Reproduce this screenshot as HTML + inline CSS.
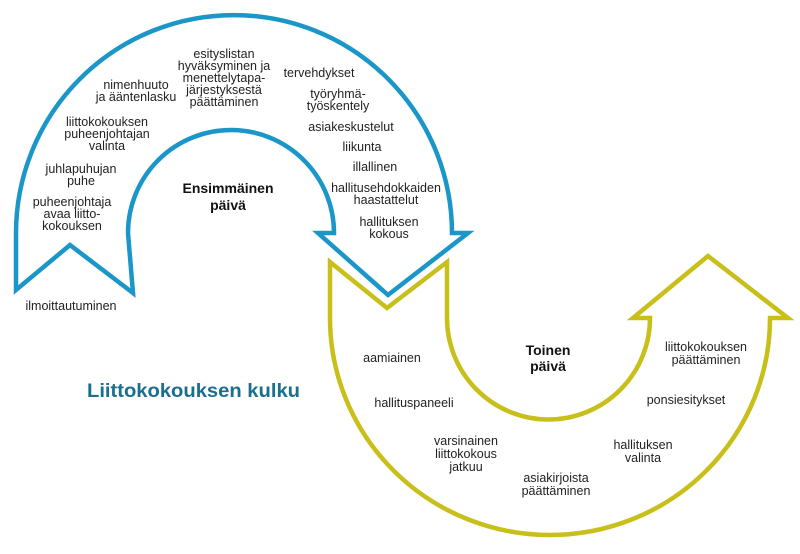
<!DOCTYPE html>
<html><head><meta charset="utf-8"><style>
html,body{margin:0;padding:0;background:#fff;}
svg{display:block}
text{font-family:"Liberation Sans",sans-serif;font-size:12.5px;fill:#222;text-anchor:middle}
.b{font-weight:bold;font-size:14px;fill:#111}
</style></head><body>
<svg width="800" height="554" viewBox="0 0 800 554" xmlns="http://www.w3.org/2000/svg">
<path d="M16 290 L16 233 A218 218 0 0 1 452 233 L468 233 L388 295 L318 233 L334 233 A103 103 0 0 0 128 233 L133 293 L70 245 Z" fill="none" stroke="#1a96c8" stroke-width="4.5" stroke-linejoin="miter"/>
<path d="M330 262 L387 308 L447 262 L447 318 A101 101 0 0 0 650 318 L633 318 L708 256 L788 318 L770 318 A220 217 0 0 1 330 318 Z" fill="none" stroke="#c8bf1a" stroke-width="4.5"/>
<text x="224" y="58">esityslistan</text>
<text x="224" y="70">hyväksyminen ja</text>
<text x="224" y="82">menettelytapa-</text>
<text x="224" y="94">järjestyksestä</text>
<text x="224" y="106">päättäminen</text>
<text x="136" y="89">nimenhuuto</text>
<text x="136" y="101">ja ääntenlasku</text>
<text x="107" y="126">liittokokouksen</text>
<text x="107" y="138">puheenjohtajan</text>
<text x="107" y="150">valinta</text>
<text x="81" y="173">juhlapuhujan</text>
<text x="81" y="185">puhe</text>
<text x="72" y="206">puheenjohtaja</text>
<text x="72" y="218">avaa liitto-</text>
<text x="72" y="230">kokouksen</text>
<text x="71" y="310">ilmoittautuminen</text>
<text x="319" y="77">tervehdykset</text>
<text x="338" y="98">työryhmä-</text>
<text x="338" y="110">työskentely</text>
<text x="351" y="131">asiakeskustelut</text>
<text x="362" y="151">liikunta</text>
<text x="375" y="171">illallinen</text>
<text x="386" y="192">hallitusehdokkaiden</text>
<text x="386" y="204">haastattelut</text>
<text x="389" y="226">hallituksen</text>
<text x="389" y="238">kokous</text>
<text class="b" x="228" y="193">Ensimmäinen</text>
<text class="b" x="228" y="210">päivä</text>
<text class="b" x="548" y="355">Toinen</text>
<text class="b" x="548" y="371">päivä</text>
<text x="392" y="362">aamiainen</text>
<text x="414" y="407">hallituspaneeli</text>
<text x="466" y="445">varsinainen</text>
<text x="466" y="458">liittokokous</text>
<text x="466" y="471">jatkuu</text>
<text x="556" y="482">asiakirjoista</text>
<text x="556" y="495">päättäminen</text>
<text x="643" y="449">hallituksen</text>
<text x="643" y="462">valinta</text>
<text x="686" y="404">ponsiesitykset</text>
<text x="706" y="351">liittokokouksen</text>
<text x="706" y="364">päättäminen</text>
<text x="87" y="397" style="font-size:19px;font-weight:bold;fill:#1a6e8e;text-anchor:start" textLength="213" lengthAdjust="spacingAndGlyphs">Liittokokouksen kulku</text>
</svg>
</body></html>
